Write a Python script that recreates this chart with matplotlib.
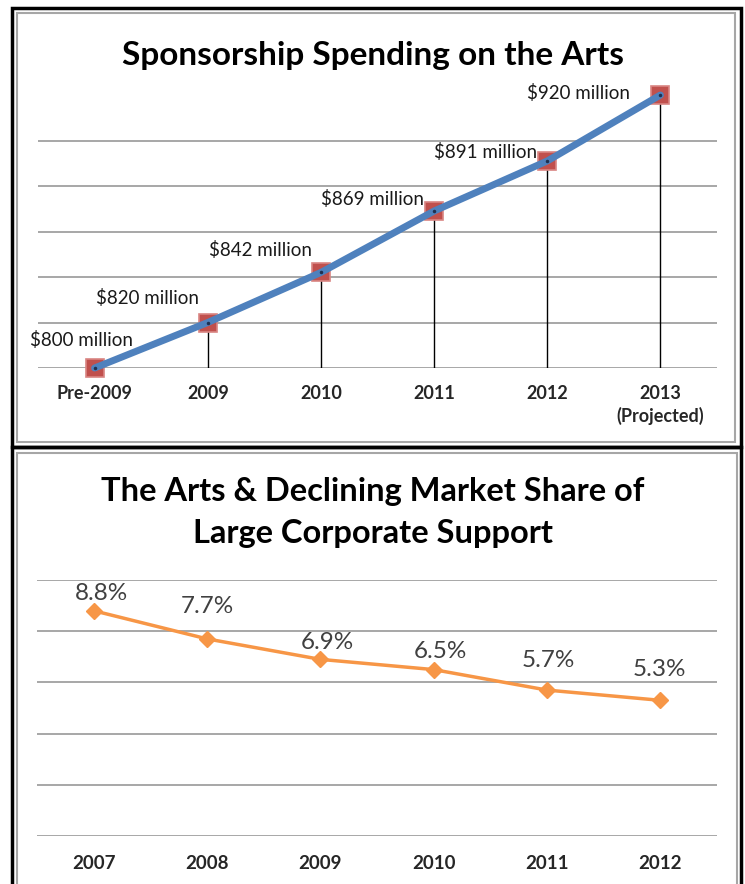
import matplotlib.pyplot as plt
from matplotlib.patches import Rectangle

plt.rcParams['font.family'] = ['Lato', 'DejaVu Sans']

# top chart data
spend_cats = ["Pre-2009", "2009", "2010", "2011", "2012", "2013\n(Projected)"]
spend_vals = [800, 820, 842, 869, 891, 920]
spend_labels = ["$800 million", "$820 million", "$842 million",
                "$869 million", "$891 million", "$920 million"]

# bottom chart data
share_years = ["2007", "2008", "2009", "2010", "2011", "2012"]
share_vals = [8.8, 7.7, 6.9, 6.5, 5.7, 5.3]

# label offsets in pixels (dx, dy)
spend_offsets = [(-13, 28), (-60, 25), (-60, 22), (-62, 12), (-62, 9), (-82, 2)]
share_offsets = [(8, 17), (0, 32), (7, 17), (7, 18), (1, 30), (-1, 31)]

W, H = 745, 884
fig = plt.figure(figsize=(W / 100, H / 100), dpi=100)


def px_axes(x0, y0, x1, y1):
    # pixel box (top-left origin) -> figure axes
    return fig.add_axes([x0 / W, 1 - y1 / H, (x1 - x0) / W, (y1 - y0) / H])


def px_rect(x0, y0, x1, y1, color, lw):
    fig.patches.append(Rectangle((x0 / W, 1 - y1 / H), (x1 - x0) / W, (y1 - y0) / H,
                                 transform=fig.transFigure, fill=False,
                                 edgecolor=color, linewidth=lw))


# panel frames
px_rect(12, 8, 741, 447, "black", 2.5)
px_rect(17, 13, 735, 442, "#a6a6a6", 1.5)
px_rect(12, 447, 741, 900, "black", 2.5)
px_rect(17, 453, 737, 900, "#a6a6a6", 1.5)

grid_col = "#a0a0a0"

# ---- top: sponsorship spending ----
ax = px_axes(38, 95, 717, 368)
x = list(range(len(spend_vals)))
ax.set_xlim(-0.5, len(spend_vals) - 0.5)
ax.set_ylim(800, 920)
for g in range(800, 920, 20):
    ax.axhline(g, color=grid_col, lw=1.3, zorder=1)
ax.vlines(x, 800, spend_vals, color="black", lw=1, zorder=2)
ax.plot(x, spend_vals, ls="none", marker="s", markersize=12.5, clip_on=False,
        markerfacecolor="#c0504d", markeredgecolor="#d98583", markeredgewidth=1.2, zorder=3)
ax.plot(x, spend_vals, color="#4f81bd", lw=5, solid_capstyle="round", clip_on=False, zorder=4)
ax.plot(x, spend_vals, ls="none", marker="o", markersize=1.5, color="#1f3050",
        clip_on=False, zorder=5)
for xi, v, lab, (dx, dy) in zip(x, spend_vals, spend_labels, spend_offsets):
    ax.annotate(lab, (xi, v), xytext=(dx, dy), textcoords="offset pixels",
                ha="center", va="center", fontsize=13.5, color="#1a1a1a")
ax.set_xticks(x)
ax.set_xticklabels(spend_cats, fontsize=13, fontweight="bold", color="#262626",
                   linespacing=1.35)
ax.set_yticks([])
ax.tick_params(axis="x", length=0, pad=12)
for s in ["top", "right", "left", "bottom"]:
    ax.spines[s].set_visible(False)
ax.set_facecolor("none")
fig.text(373 / W, 1 - 55 / H, "Sponsorship Spending on the Arts", ha="center", va="center",
         fontsize=24, fontweight="bold", color="black")

# ---- bottom: market share ----
ax2 = px_axes(37, 580, 717, 836)
x2 = list(range(len(share_vals)))
ax2.set_xlim(-0.5, len(share_vals) - 0.5)
ax2.set_ylim(0, 10)
for g in range(0, 11, 2):
    ax2.axhline(g, color=grid_col, lw=1.3, zorder=1)
ax2.plot(x2, share_vals, color="#f79646", lw=2.5, marker="D", markersize=8,
         markerfacecolor="#f79646", markeredgecolor="#f79646", zorder=3)
for xi, v, (dx, dy) in zip(x2, share_vals, share_offsets):
    ax2.annotate(f"{v:.1f}%", (xi, v), xytext=(dx, dy), textcoords="offset pixels",
                 ha="center", va="center", fontsize=17.5, color="#404040")
ax2.set_xticks(x2)
ax2.set_xticklabels(share_years, fontsize=13.5, fontweight="bold", color="#262626")
ax2.set_yticks([])
ax2.tick_params(axis="x", length=0, pad=14)
for s in ["top", "right", "left", "bottom"]:
    ax2.spines[s].set_visible(False)
ax2.set_facecolor("none")
fig.text(373 / W, 1 - 492 / H, "The Arts & Declining Market Share of", ha="center",
         va="center", fontsize=23.5, fontweight="bold", color="black")
fig.text(373 / W, 1 - 533 / H, "Large Corporate Support", ha="center",
         va="center", fontsize=23.5, fontweight="bold", color="black")

fig.savefig("out.png", dpi=100)
